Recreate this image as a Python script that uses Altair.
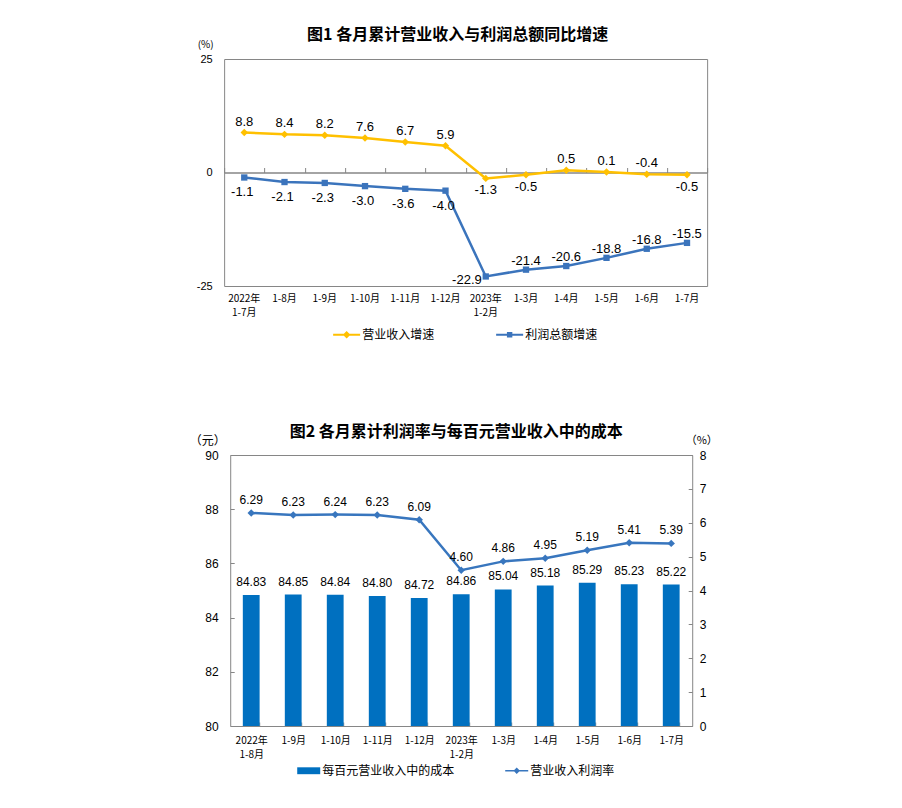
import json
import altair as alt
import pandas as pd

# ---------------- data ----------------
months1 = ["2022年|1-7月", "1-8月", "1-9月", "1-10月", "1-11月", "1-12月",
           "2023年|1-2月", "1-3月", "1-4月", "1-5月", "1-6月", "1-7月"]
revenue_growth = [8.8, 8.4, 8.2, 7.6, 6.7, 5.9, -1.3, -0.5, 0.5, 0.1, -0.4, -0.5]
profit_growth = [-1.1, -2.1, -2.3, -3.0, -3.6, -4.0, -22.9, -21.4, -20.6, -18.8, -16.8, -15.5]
series1 = ["营业收入增速", "利润总额增速"]
y1_ticks = [-25, 0, 25]

months2 = ["2022年|1-8月", "1-9月", "1-10月", "1-11月", "1-12月", "2023年|1-2月",
           "1-3月", "1-4月", "1-5月", "1-6月", "1-7月"]
cost_per_100 = [84.83, 84.85, 84.84, 84.80, 84.72, 84.86, 85.04, 85.18, 85.29, 85.23, 85.22]
profit_margin = [6.29, 6.23, 6.24, 6.23, 6.09, 4.60, 4.86, 4.95, 5.19, 5.41, 5.39]
series2 = ["每百元营业收入中的成本", "营业收入利润率"]
y2_left_ticks = [80, 82, 84, 86, 88, 90]
y2_right_ticks = [0, 1, 2, 3, 4, 5, 6, 7, 8]

title1 = "图1  各月累计营业收入与利润总额同比增速"
title2 = "图2  各月累计利润率与每百元营业收入中的成本"

# ---------------- style ----------------
CJK = "Noto Sans CJK SC, sans-serif"
NUM = "Liberation Sans, Arial, sans-serif"
YEL = "#FFC000"
BLU1 = "#3B74BC"
BAR = "#0070C0"
BLU2 = "#3876BE"
GRAY = "#868686"
MINUS_FIX = "replace(datum.label, '\u2212', '-')"
SPLIT = "isValid(datum.value) ? split(datum.value, '|') : ''"

W1, H1 = 483, 227
W2, H2 = 462, 271

P_LINE_DIAMOND = "M-1,-0.075L1,-0.075L1,0.075L-1,0.075Z M0,-0.28L0.28,0L0,0.28L-0.28,0Z"
P_LINE_SQUARE = "M-1,-0.075L1,-0.075L1,0.075L-1,0.075Z M-0.2,-0.2L0.2,-0.2L0.2,0.2L-0.2,0.2Z"
P_RECT = "M-1,-0.3L1,-0.3L1,0.3L-1,0.3Z"

# ---------------- chart 1 ----------------
df1 = pd.DataFrame({
    "month": months1 + months1,
    "series": [series1[0]] * len(months1) + [series1[1]] * len(months1),
    "value": revenue_growth + profit_growth,
})

color1 = alt.Scale(domain=series1, range=[YEL, BLU1])
y1_scale = alt.Scale(domain=[-25, 25], nice=False, zero=False)
x1_scale = alt.Scale(paddingInner=0, paddingOuter=0)


def x1(axis):
    return alt.X("month:N", sort=months1, scale=x1_scale, axis=axis)


def y1(axis=None):
    return alt.Y("value:Q", scale=y1_scale, axis=axis)


axis1_bottom = alt.Axis(orient="bottom", labelExpr=SPLIT, labelAngle=0,
                        ticks=False, domain=False, labelPadding=7, labelFont=CJK,
                        labelFontSize=10, labelLineHeight=14, labelOverlap=False, title=None)
axis1_zero = alt.Axis(orient="top", offset=-H1 / 2, labels=False, ticks=True, tickBand="extent",
                      tickSize=5, tickColor=GRAY, tickWidth=1, domain=True, domainColor=GRAY,
                      domainWidth=1.5, title=None, grid=False)
axis1_left = alt.Axis(orient="left", values=y1_ticks, ticks=False, domain=False, labelPadding=12,
                      labelFontSize=11, labelFont=NUM, grid=False, labelExpr=MINUS_FIX,
                      title="(%)", titleAngle=0, titleX=-19, titleY=-15, titleAlign="center",
                      titleBaseline="middle", titleFontSize=10, titleFont=CJK)
# invisible right-hand spacer axis (keeps the two panels offset as in the original layout)
axis1_right = alt.Axis(orient="right", values=[25], ticks=False, domain=False, labelPadding=4,
                       labelFontSize=11, labelFont=NUM, labelOpacity=0, grid=False, title=None)

is_y = f"datum.series == '{series1[0]}'"
is_b = f"datum.series == '{series1[1]}'"
base1 = alt.Chart(df1)

line_y = base1.transform_filter(is_y).mark_line(strokeWidth=2.5, color=YEL).encode(
    x=x1(axis1_bottom), y=y1(axis1_left))
line_b = base1.transform_filter(is_b).mark_line(strokeWidth=2.5, color=BLU1).encode(
    x=x1(None), y=y1(axis1_right))
pts_y = base1.transform_filter(is_y).mark_point(
    shape="diamond", filled=True, size=55, opacity=1, color=YEL).encode(
    x=x1(axis1_zero), y=y1())
pts_b = base1.transform_filter(is_b).mark_point(
    shape="square", filled=True, size=40, opacity=1, color=BLU1).encode(
    x=x1(None), y=y1())

yel_below = ["2023年|1-2月", "1-3月", "1-7月"]
blu_left = ["2023年|1-2月"]
blu_above = ["1-3月", "1-4月", "1-5月", "1-6月", "1-7月"]


def cond(series, months, inside=True):
    op = ">=" if inside else "<"
    return (f"datum.series == '{series}' && "
            f"indexof({json.dumps(months, ensure_ascii=False)}, datum.month) {op} 0")


def labels1(flt, dx, dy, align="center"):
    return base1.transform_filter(flt).transform_calculate(
        lbl="replace(format(datum.value, '.1f'), '\u2212', '-')"
    ).mark_text(
        font=NUM, fontSize=13, color="#000", dx=dx, dy=dy, align=align, baseline="middle").encode(
        x=x1(None), y=y1(), text="lbl:N")


lab_y_above = labels1(cond(series1[0], yel_below, False), 0, -11)
lab_y_below = labels1(cond(series1[0], yel_below, True), 0, 12)
lab_b_above = labels1(cond(series1[1], blu_above, True), 0, -9)
lab_b_left = labels1(cond(series1[1], blu_left, True), -4, 4, "right")
lab_b_below = labels1(cond(series1[1], blu_above + blu_left, False), -2, 15)

leg1 = alt.Legend(orient="none", legendX=109, legendY=262, direction="horizontal", title=None,
                  symbolSize=729, symbolStrokeWidth=0, symbolOpacity=1, labelFont=CJK,
                  labelFontSize=12, labelColor="#000", labelOffset=2, columnPadding=61, padding=0)
legend_layer1 = alt.Chart(pd.DataFrame({"series": series1})).mark_point(
    filled=True, opacity=0).encode(
    color=alt.Color("series:N", scale=color1, legend=leg1),
    shape=alt.Shape("series:N", scale=alt.Scale(domain=series1, range=[P_LINE_DIAMOND, P_LINE_SQUARE]),
                    legend=leg1),
)

chart1 = alt.layer(line_y, line_b, pts_y, pts_b, lab_y_above, lab_y_below, lab_b_above,
                   lab_b_left, lab_b_below, legend_layer1).resolve_axis(
    x="independent", y="independent"
).properties(
    width=W1, height=H1,
    title=alt.TitleParams(title1, font=CJK, fontSize=16, fontWeight="bold", color="#000",
                          anchor="middle", offset=2, dy=6, dx=-8),
)

# ---------------- chart 2 ----------------
df2 = pd.DataFrame({"month": months2, "cost": cost_per_100, "margin": profit_margin})
x2_scale = alt.Scale(paddingInner=0.6, paddingOuter=0.3)


def x2(axis):
    return alt.X("month:N", sort=months2, scale=x2_scale, axis=axis)


axis2_bottom = alt.Axis(orient="bottom", offset=-4, tickSize=4, ticks=True, tickBand="extent",
                        tickColor=GRAY, domain=False, labelExpr=SPLIT,
                        labelAngle=0, labelPadding=9, labelFont=CJK, labelFontSize=10,
                        labelLineHeight=14, labelOverlap=False, title=None)
axis2_left = alt.Axis(orient="left", values=y2_left_ticks, offset=-4, tickSize=4, ticks=True,
                      tickColor=GRAY, domain=False, labelPadding=12, labelFontSize=12,
                      labelFont=NUM, grid=False,
                      title="（元）", titleAngle=0, titleX=-27, titleY=-15, titleAlign="center",
                      titleBaseline="middle", titleFontSize=12, titleFont=CJK)
axis2_right = alt.Axis(orient="right", values=y2_right_ticks, offset=-4, tickSize=4, ticks=True,
                       tickColor=GRAY, domain=False, labelPadding=7, labelFontSize=12,
                       labelFont=NUM, grid=False,
                       title="（%）", titleAngle=0, titleX=13, titleY=-15, titleAlign="center",
                       titleBaseline="middle", titleFontSize=11, titleFont=CJK)

cost_scale = alt.Scale(domain=[80, 90], nice=False, zero=False)
margin_scale = alt.Scale(domain=[0, 8], nice=False, zero=False)
base2 = alt.Chart(df2)

bars = base2.mark_bar(color=BAR, clip=True).encode(
    x=x2(axis2_bottom), y=alt.Y("cost:Q", scale=cost_scale, axis=axis2_left))
bar_labels = base2.mark_text(font=NUM, fontSize=12, color="#000", dy=-13, baseline="middle").encode(
    x=x2(None), y=alt.Y("cost:Q", scale=cost_scale, axis=None),
    text=alt.Text("cost:Q", format=".2f"))

line2 = base2.mark_line(color=BLU2, strokeWidth=2.5).encode(
    x=x2(None), y=alt.Y("margin:Q", scale=margin_scale, axis=axis2_right))
pts2 = base2.mark_point(shape="diamond", filled=True, size=55, color=BLU2, opacity=1).encode(
    x=x2(None), y=alt.Y("margin:Q", scale=margin_scale, axis=None))
line_labels = base2.mark_text(font=NUM, fontSize=12, color="#000", dy=-13, baseline="middle").encode(
    x=x2(None), y=alt.Y("margin:Q", scale=margin_scale, axis=None),
    text=alt.Text("margin:Q", format=".2f"))

color2 = alt.Scale(domain=series2, range=[BAR, BLU2])
leg2 = alt.Legend(orient="none", legendX=67, legendY=304, direction="horizontal", title=None,
                  symbolSize=529, symbolStrokeWidth=0, symbolOpacity=1, labelFont=CJK,
                  labelFontSize=12, labelColor="#000", labelOffset=2, columnPadding=50, padding=0)
legend_layer2 = alt.Chart(pd.DataFrame({"series": series2})).mark_point(
    filled=True, opacity=0).encode(
    color=alt.Color("series:N", scale=color2, legend=leg2),
    shape=alt.Shape("series:N", scale=alt.Scale(domain=series2, range=[P_RECT, P_LINE_DIAMOND]),
                    legend=leg2),
)

chart2 = alt.layer(
    alt.layer(bars, bar_labels).resolve_axis(x="independent", y="independent"),
    alt.layer(line2, pts2, line_labels).resolve_axis(x="independent", y="independent"),
    legend_layer2,
).resolve_scale(y="independent").resolve_axis(x="independent", y="independent").properties(
    width=W2, height=H2,
    title=alt.TitleParams(title2, font=CJK, fontSize=16, fontWeight="bold", color="#000",
                          anchor="middle", offset=0, dy=6, dx=-5),
)

chart = alt.vconcat(chart1, chart2, spacing=81, center=True).resolve_scale(
    color="independent", shape="independent"
).properties(
    padding={"top": 18, "left": 180, "right": 5, "bottom": 5}
).configure_view(stroke=GRAY, strokeWidth=1).configure_axis(
    labelColor="#000", titleColor="#000", titleFontWeight="normal", grid=False
)

chart.save("out.html", embed_options={"renderer": "svg", "actions": False})
